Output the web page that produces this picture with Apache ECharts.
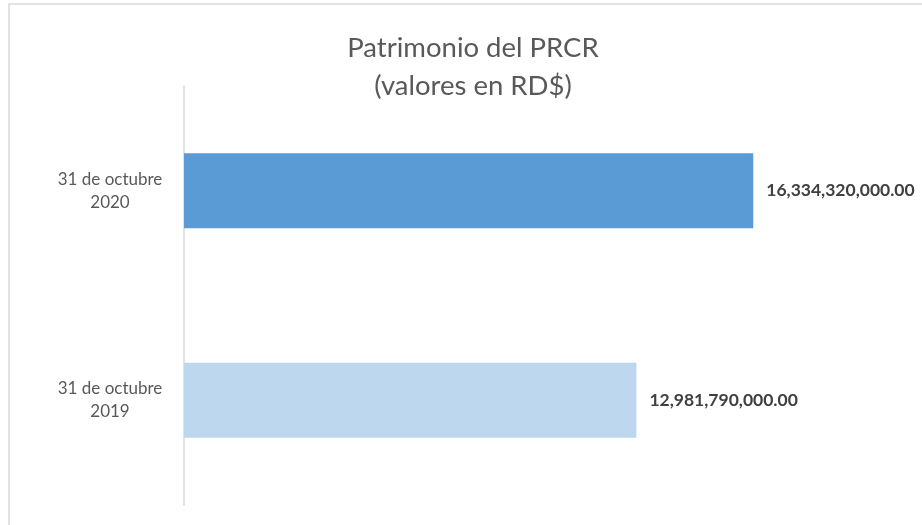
<!DOCTYPE html>
<html>
<head>
<meta charset="utf-8">
<script src="https://cdn.jsdelivr.net/npm/echarts@6/dist/echarts.min.js"></script>
<style>
    html, body { margin: 0; padding: 0; background: #fff; }
    #chart { width: 922px; height: 525px; }
</style>
</head>
<body>
<div id="chart"></div>
<script>
    // categorías (de abajo hacia arriba)
    const categories = ['31 de octubre\n2019', '31 de octubre\n2020'];
    const values = [12981790000, 16334320000];
    const barColors = ['#BDD7EE', '#5B9BD5'];

    const chart = echarts.init(document.getElementById('chart'));

    const fmt = function (v) {
        return v.toLocaleString('en-US', { minimumFractionDigits: 2, maximumFractionDigits: 2 });
    };

    chart.setOption({
        animation: false,
        title: {
            text: 'Patrimonio del PRCR\n(valores en RD$)',
            left: 468,
            top: 24,
            textAlign: 'center',
            textStyle: {
                fontFamily: 'Lato',
                fontWeight: 'normal',
                fontSize: 27.5,
                lineHeight: 38,
                color: '#595959'
            }
        },
        graphic: [{
            type: 'rect',
            shape: { x: 9, y: 4, width: 940, height: 560 },
            style: { fill: 'none', stroke: '#d9d9d9', lineWidth: 1.5 },
            silent: true
        }],
        grid: {
            left: 184,
            right: 41,
            top: 86,
            bottom: 20
        },
        xAxis: {
            type: 'value',
            min: 0,
            max: 20000000000,
            show: false
        },
        yAxis: {
            type: 'category',
            data: categories,
            axisTick: { show: false },
            axisLine: { lineStyle: { color: '#d9d9d9', width: 1.5 } },
            axisLabel: {
                margin: 74,
                align: 'center',
                fontFamily: 'Lato',
                fontSize: 17,
                lineHeight: 23,
                color: '#595959'
            }
        },
        series: [{
            type: 'bar',
            barWidth: 75,
            data: values.map(function (v, i) {
                return { value: v, itemStyle: { color: barColors[i] } };
            }),
            label: {
                show: true,
                position: 'right',
                distance: 13,
                fontFamily: 'Lato',
                fontWeight: 'bold',
                fontSize: 17.5,
                color: '#404040',
                formatter: function (p) { return fmt(p.value); }
            }
        }]
    });
</script>
</body>
</html>
